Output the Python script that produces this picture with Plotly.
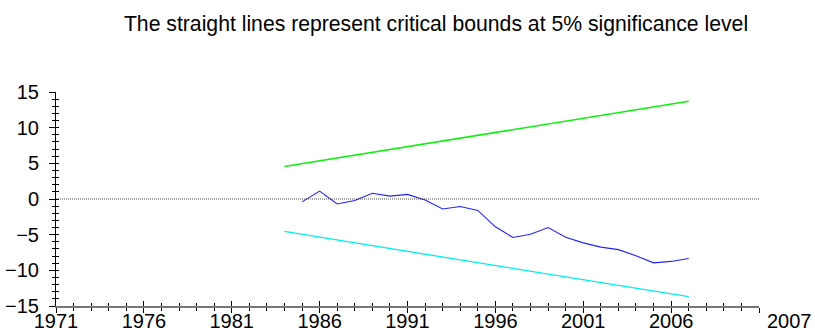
import plotly.graph_objects as go

# CUSUM of recursive residuals, 1985-2007
years = list(range(1985, 2008))
cusum = [-0.4, 1.1, -0.7, -0.2, 0.8, 0.4, 0.65, -0.15, -1.4, -1.05, -1.6, -3.9,
         -5.4, -4.95, -4.0, -5.35, -6.15, -6.75, -7.1, -7.95, -8.95, -8.75, -8.35]

# 5% critical bounds (straight lines)
bound_years = [1984, 2007]
upper_bound = [4.55, 13.7]
lower_bound = [-4.55, -13.7]

x_tick_vals = [1971, 1976, 1981, 1986, 1991, 1996, 2001, 2006, 2011]
x_tick_text = ["1971", "1976", "1981", "1986", "1991", "1996", "2001", "2006", ""]
y_tick_vals = [-15, -10, -5, 0, 5, 10, 15]
end_label = "2007"
title_text = "The straight lines represent critical bounds at 5% significance level"

FONT = "Liberation Sans, Arial, sans-serif"

fig = go.Figure()
fig.add_trace(go.Scatter(x=bound_years, y=upper_bound, mode="lines",
                         line=dict(color="#11ee11", width=1.5), hoverinfo="skip"))
fig.add_trace(go.Scatter(x=bound_years, y=lower_bound, mode="lines",
                         line=dict(color="#00eeee", width=1.3), hoverinfo="skip"))
fig.add_trace(go.Scatter(x=years, y=cusum, mode="lines",
                         line=dict(color="#2222ff", width=1.1)))

# dotted zero reference
fig.add_shape(type="line", xref="paper", x0=0, x1=1, yref="y", y0=0, y1=0,
              line=dict(color="#222222", width=0.8, dash="1px,1px"))

xr = [1971, 2011]
yr = [-15, 15]

fig.update_layout(
    width=815, height=334,
    margin=dict(l=56, r=56, t=92, b=28),
    paper_bgcolor="white", plot_bgcolor="white",
    showlegend=False,
    font=dict(family=FONT, size=20, color="black"),
    title=dict(text=title_text, font=dict(family=FONT, size=21.2, color="black"),
               x=0.535, xref="container", xanchor="center",
               y=1 - 24 / 334, yref="container", yanchor="middle"),
    xaxis=dict(range=xr, tickmode="array", tickvals=x_tick_vals, ticktext=x_tick_text,
               ticks="outside", ticklen=5, tickwidth=1, tickcolor="black",
               minor=dict(ticks="outside", ticklen=3, dtick=1, tick0=1971,
                          tickcolor="black", tickwidth=1),
               showline=True, linecolor="#777777", linewidth=2,
               showgrid=False, zeroline=False, automargin=False,
               ticklabelstandoff=-9,
               tickfont=dict(family=FONT, size=20)),
    xaxis2=dict(range=xr, overlaying="x", anchor="y", side="bottom",
                tickmode="array", tickvals=x_tick_vals, showticklabels=False,
                ticks="inside", ticklen=5, tickwidth=1, tickcolor="black",
                minor=dict(ticks="inside", ticklen=3, dtick=1, tick0=1971,
                           tickcolor="black", tickwidth=1),
                showline=False, showgrid=False, zeroline=False),
    yaxis=dict(range=yr, tickmode="array", tickvals=y_tick_vals,
               ticks="outside", ticklen=6, tickwidth=1, tickcolor="black",
               minor=dict(ticks="outside", ticklen=3, dtick=1, tick0=-15,
                          tickcolor="black", tickwidth=1),
               showline=True, linecolor="black", linewidth=1,
               showgrid=False, zeroline=False, automargin=False,
               ticklabelstandoff=6,
               tickfont=dict(family=FONT, size=20)),
    yaxis2=dict(range=yr, overlaying="y", anchor="x", side="left",
                tickmode="array", tickvals=y_tick_vals, showticklabels=False,
                ticks="inside", ticklen=3, tickwidth=1, tickcolor="black",
                minor=dict(ticks="inside", ticklen=3, dtick=1, tick0=-15,
                           tickcolor="black", tickwidth=1),
                showline=False, showgrid=False, zeroline=False),
)

# hidden trace so the overlay axes are drawn
fig.add_trace(go.Scatter(x=[1971], y=[0], xaxis="x2", yaxis="y2", mode="markers",
                         marker=dict(opacity=0), hoverinfo="skip"))

fig.add_annotation(text=end_label, xref="paper", yref="paper", x=1.044, y=-0.072,
                   xanchor="center", yanchor="middle", showarrow=False,
                   font=dict(family=FONT, size=20, color="black"))

fig.write_html("out.html")
